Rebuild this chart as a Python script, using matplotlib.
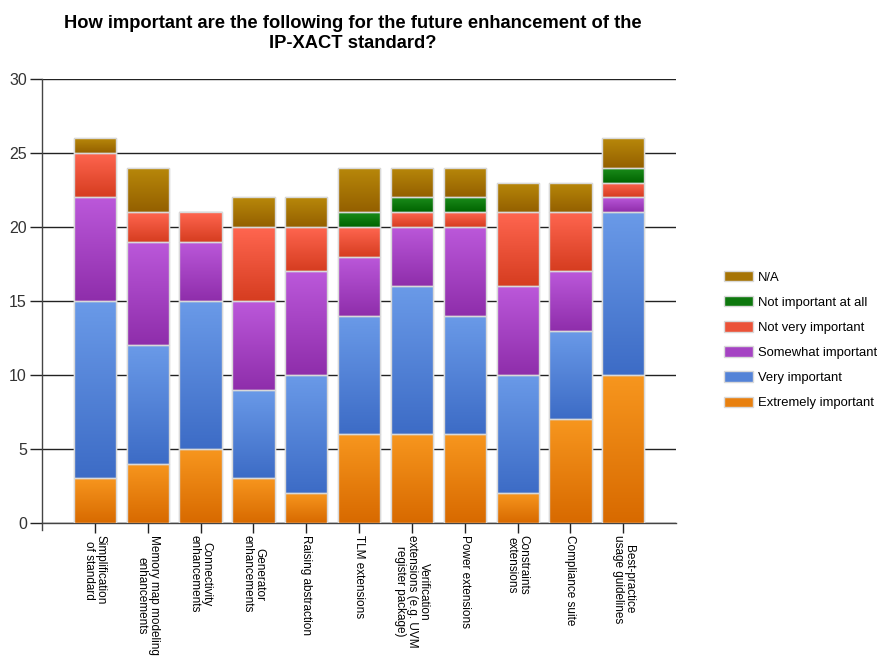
import matplotlib
matplotlib.use("Agg")

import matplotlib.pyplot as plt
import numpy as np
from matplotlib.colors import LinearSegmentedColormap

plt.rcParams["font.family"] = ["Liberation Sans", "DejaVu Sans"]

categories = [
    "Simplification\nof standard",
    "Memory map modeling\nenhancements",
    "Connectivity\nenhancements",
    "Generator\nenhancements",
    "Raising abstraction",
    "TLM extensions",
    "Verification\nextensions (e.g. UVM\nregister package)",
    "Power extensions",
    "Constraints\nextensions",
    "Compliance suite",
    "Best-practice\nusage guidelines",
]

extremely = [3, 4, 5, 3, 2, 6, 6, 6, 2, 7, 10]
very = [12, 8, 10, 6, 8, 8, 10, 8, 8, 6, 11]
somewhat = [7, 7, 4, 6, 7, 4, 4, 6, 6, 4, 1]
not_very = [3, 2, 2, 5, 3, 2, 1, 1, 5, 4, 1]
not_at_all = [0, 0, 0, 0, 0, 1, 1, 1, 0, 0, 1]
n_a = [1, 3, 0, 2, 2, 3, 2, 2, 2, 2, 2]

series = [
    ("Extremely important", extremely, "#f7961e", "#d86a00"),
    ("Very important", very, "#6a9ae8", "#3d6cc6"),
    ("Somewhat important", somewhat, "#bb58da", "#8f2eab"),
    ("Not very important", not_very, "#ff6650", "#d63d20"),
    ("Not important at all", not_at_all, "#1b8c1b", "#006400"),
    ("N/A", n_a, "#b8880a", "#946000"),
]

fig = plt.figure(figsize=(8.77, 6.61), dpi=100)
ax = fig.add_axes([0.048, 0.209, 0.723, 0.6715])

x = np.arange(1, len(categories) + 1)
bottom = np.zeros(len(categories))
gradient = np.linspace(0, 1, 64).reshape(-1, 1)
handles = []

for name, values, top_col, bot_col in series:
    vals = np.array(values, dtype=float)
    mid = LinearSegmentedColormap.from_list(name, [bot_col, top_col])(0.5)
    bars = ax.bar(x, vals, 0.8, bottom=bottom, color=mid,
                  edgecolor="#d9d9d9", linewidth=1.0, zorder=3, label=name)
    cmap = LinearSegmentedColormap.from_list(name + "_g", [top_col, bot_col])
    for patch, v in zip(bars.patches, vals):
        if v <= 0:
            continue
        px, py = patch.get_x(), patch.get_y()
        pw, ph = patch.get_width(), patch.get_height()
        im = ax.imshow(gradient, cmap=cmap, aspect="auto", origin="upper",
                       extent=[px, px + pw, py, py + ph], zorder=3.1,
                       interpolation="bilinear")
        im.set_clip_path(patch)
        # outline on top of the gradient fill
        ax.bar(px + pw / 2, ph, pw, bottom=py, fill=False,
               edgecolor="#d9d9d9", linewidth=1.0, zorder=3.2)
    handles.append(bars)
    bottom += vals

ax.set_xlim(0, 12)
ax.set_ylim(0, 30)
ax.set_yticks(range(0, 31, 5))
ax.set_xticks(x)
ax.set_xticklabels(categories, rotation=270, fontsize=8.5, va="top", ha="center",
                   linespacing=0.95)
ax.tick_params(axis="y", labelsize=11.5, labelcolor="#333333", length=9,
               width=1, color="#222222", pad=2)
ax.tick_params(axis="x", length=7, width=1, color="#222222", pad=2)

ax.grid(axis="y", color="#222222", linewidth=1.0, zorder=1)
ax.set_axisbelow(True)
for side in ("top", "right"):
    ax.spines[side].set_visible(False)
for side in ("left", "bottom"):
    ax.spines[side].set_color("#444444")
    ax.spines[side].set_linewidth(1.0)
ax.spines["left"].set_bounds(-0.45, 30)

fig.suptitle("How important are the following for the future enhancement of the\n"
             "IP-XACT standard?", x=0.402, y=0.978, fontsize=13.2,
             fontweight="bold", linespacing=1.3)

leg = fig.legend(handles=handles[::-1], loc="upper left",
                 bbox_to_anchor=(0.82, 0.598), frameon=False, fontsize=9.4,
                 handlelength=2.2, handleheight=0.85, labelspacing=0.95,
                 handletextpad=0.4, borderaxespad=0)

fig.savefig("out.png", dpi=100)
